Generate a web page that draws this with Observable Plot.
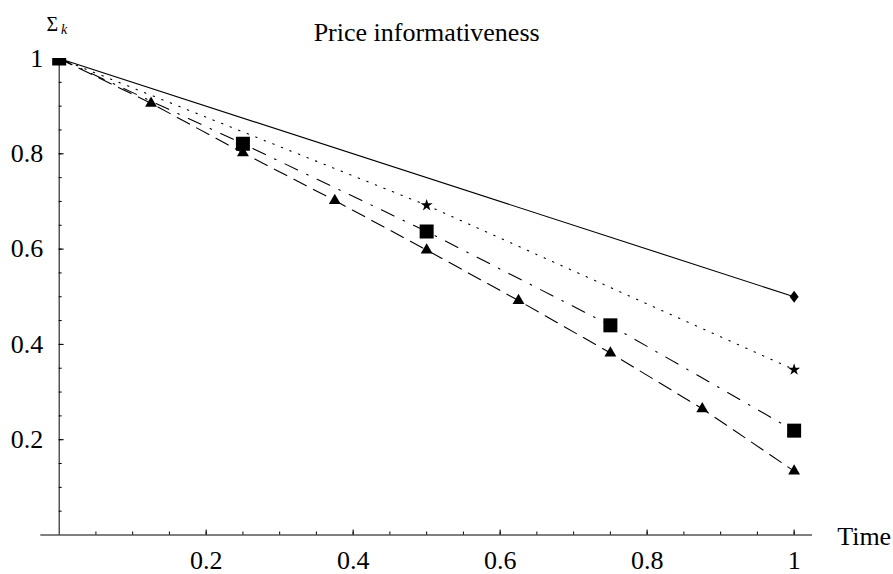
<!DOCTYPE html>
<html>
<head>
<meta charset="utf-8">
<script src="https://cdn.jsdelivr.net/npm/d3@7"></script>
<script src="https://cdn.jsdelivr.net/npm/@observablehq/plot@0.6"></script>
<style>
  html, body { margin: 0; padding: 0; background: #fff; }
</style>
</head>
<body>
<div id="chart"></div>
<script>
// Σ_k against time for one, two, four and eight trading rounds
const timesOne = [0, 1];
const sigmaOne = [1, 0.5];

const timesTwo = [0, 0.5, 1];
const sigmaTwo = [1, 0.692, 0.347];

const timesFour = [0, 0.25, 0.5, 0.75, 1];
const sigmaFour = [1, 0.821, 0.637, 0.44, 0.219];

const timesEight = [0, 0.125, 0.25, 0.375, 0.5, 0.625, 0.75, 0.875, 1];
const sigmaEight = [1, 0.906, 0.802, 0.702, 0.598, 0.492, 0.382, 0.265, 0.134];

const xTickLabels = [0.2, 0.4, 0.6, 0.8, 1];
const yTickLabels = [0.2, 0.4, 0.6, 0.8, 1];
const minorTicks = d3.range(1, 21).map(i => i / 20);

const rows = (times, sigma) => times.map((t, i) => ({t, s: sigma[i]}));
const one = rows(timesOne, sigmaOne);
const two = rows(timesTwo, sigmaTwo);
const four = rows(timesFour, sigmaFour);
const eight = rows(timesEight, sigmaEight);

// filled diamond, a little wider than d3's
const diamond = {
  draw(ctx, size) {
    const r = Math.sqrt(size / Math.PI);
    const h = r * 1.2, w = r * 0.9;
    ctx.moveTo(0, -h); ctx.lineTo(w, 0); ctx.lineTo(0, h); ctx.lineTo(-w, 0); ctx.closePath();
  }
};

const serif = "Liberation Serif";
const lineStyle = {x: "t", y: "s", stroke: "black", strokeWidth: 1.1};
const textStyle = {fontFamily: serif, fontSize: 26, fill: "black"};

const chart = Plot.plot({
  width: 893,
  height: 574,
  marginLeft: 40.3,
  marginRight: 81,
  marginTop: 58,
  marginBottom: 39.5,
  x: {domain: [-0.025, 1.025], axis: null},
  y: {domain: [0, 1], axis: null},
  style: {fontFamily: serif, fontSize: "26px", background: "white", color: "black"},
  marks: [
    // axes crossing at the origin
    Plot.ruleY([0], {stroke: "black", strokeWidth: 1}),
    Plot.ruleX([0], {stroke: "black", strokeWidth: 1}),
    Plot.axisX(minorTicks, {tickSize: -3, text: null, label: null}),
    Plot.axisX(xTickLabels, {tickSize: -5, text: null, label: null}),
    Plot.axisY(minorTicks, {x: 0, tickSize: -3, text: null, label: null}),
    Plot.axisY(yTickLabels, {x: 0, tickSize: -5, text: null, label: null}),

    // tick numbers
    Plot.text(xTickLabels, {x: d => d, y: 0, text: d => String(d), dy: 16, lineAnchor: "top", ...textStyle}),
    Plot.text(yTickLabels, {x: 0, y: d => d, text: d => String(d), dx: -16, textAnchor: "end", lineAnchor: "middle", ...textStyle}),

    // vertical axis name Σ_k, set just above the top of the axis
    Plot.text(["Σ"], {x: 0, y: 1, dx: -12.7, dy: -33.7, textAnchor: "start", lineAnchor: "middle", fontFamily: serif, fontSize: 20, fill: "black"}),
    Plot.text(["k"], {x: 0, y: 1, dx: 1.8, dy: -28.5, textAnchor: "start", lineAnchor: "middle", fontFamily: serif, fontSize: 14, fontStyle: "italic", fill: "black"}),

    // series lines
    Plot.line(one, {...lineStyle}),
    Plot.line(two, {...lineStyle, strokeDasharray: "1.4,7.8"}),
    Plot.line(four, {...lineStyle, strokeDasharray: "14,10,1.6,10"}),
    Plot.line(eight, {...lineStyle, strokeDasharray: "14,8"}),

    // markers, clipped to the plotting region
    Plot.dot(one, {x: "t", y: "s", symbol: diamond, r: 5, fill: "black", stroke: "none", clip: true}),
    Plot.dot(two, {x: "t", y: "s", symbol: "star", r: 3.8, fill: "black", stroke: "none", clip: true}),
    Plot.dot(four, {x: "t", y: "s", symbol: "square", r: 7.9, fill: "black", stroke: "none", clip: true}),
    Plot.dot(eight, {x: "t", y: "s", symbol: "triangle", r: 4.4, fill: "black", stroke: "none", clip: true}),

    // title and horizontal axis name
    Plot.text(["Price informativeness"], {frameAnchor: "top", dy: -17.3, lineAnchor: "bottom", ...textStyle}),
    Plot.text(["Time"], {frameAnchor: "bottom-right", dx: 24.7, dy: 9.5, textAnchor: "start", lineAnchor: "bottom", ...textStyle})
  ]
});

document.getElementById("chart").append(chart);
</script>
</body>
</html>
